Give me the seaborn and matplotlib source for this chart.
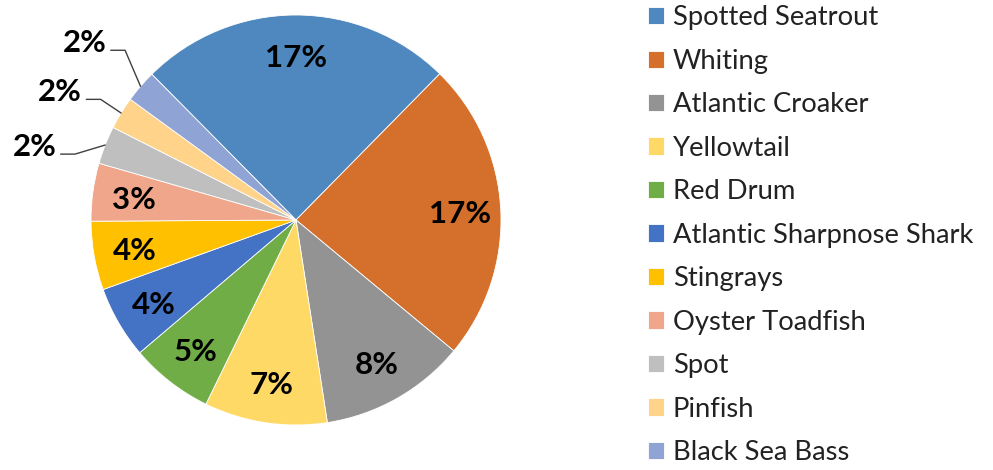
import numpy as np
import matplotlib
matplotlib.use('Agg')
import matplotlib.pyplot as plt
import seaborn as sns

# Catch share by species (percent of total catch)
species = ['Spotted Seatrout', 'Whiting', 'Atlantic Croaker', 'Yellowtail', 'Red Drum',
           'Atlantic Sharpnose Shark', 'Stingrays', 'Oyster Toadfish', 'Spot', 'Pinfish',
           'Black Sea Bass']
share = [17.4, 16.6, 8.1, 6.8, 4.6, 4.0, 3.8, 3.2, 2.1, 1.8, 1.8]
colors = ['#4F88BE', '#D4702B', '#939393', '#FFD966', '#70AD47', '#4472C4',
          '#FFC000', '#F0A68A', '#BFBFBF', '#FFD38A', '#8FA3D4']

# where the leader lines of the small slices bend (angle in degrees, radius)
elbows = {'Spot': (163.4, 1.125), 'Pinfish': (148.3, 1.12), 'Black Sea Bass': (135.2, 1.175)}

sns.set_theme(style='white')
plt.rcParams['font.family'] = ['Lato', 'DejaVu Sans']

fig = plt.figure(figsize=(9.93, 4.70), dpi=100)
ax = fig.add_axes([0, 0, 1, 1])

wedges, _ = ax.pie(share, colors=colors, startangle=134.7, counterclock=False,
                   radius=1, wedgeprops=dict(edgecolor='white', linewidth=0.6))

# percentage labels: inside for big slices, leader lines for the small ones
for w, name, v in zip(wedges, species, share):
    mid = np.deg2rad((w.theta1 + w.theta2) / 2)
    c, s = np.cos(mid), np.sin(mid)
    lab = f'{v:.0f}%'
    if name not in elbows:
        ax.text(0.8 * c, 0.8 * s - 0.012, lab, ha='center', va='center',
                fontsize=22.5, fontweight='bold', color='black')
    else:
        ang, rad = elbows[name]
        ex, ey = rad * np.cos(np.deg2rad(ang)), rad * np.sin(np.deg2rad(ang))
        hx = ex - 0.07
        ax.plot([c, ex, hx], [s, ey, ey], color='#404040', lw=1)
        ax.text(hx - 0.02, ey + 0.035, lab, ha='right', va='center',
                fontsize=22.5, fontweight='bold', color='black')

ax.set_xlim(-296 / 205, 697 / 205)
ax.set_ylim(-250 / 205, 220 / 205)
ax.set_aspect('auto')
ax.axis('off')

leg = ax.legend(wedges, species, loc='upper left', bbox_to_anchor=(0.6526, 0.9885),
                bbox_transform=fig.transFigure, frameon=False, fontsize=19.7,
                handlelength=0.6, handleheight=0.6, handletextpad=0.3,
                labelspacing=0.675, borderpad=0, borderaxespad=0)
for t in leg.get_texts():
    t.set_color('#222222')

fig.savefig('out.png', dpi=100)
